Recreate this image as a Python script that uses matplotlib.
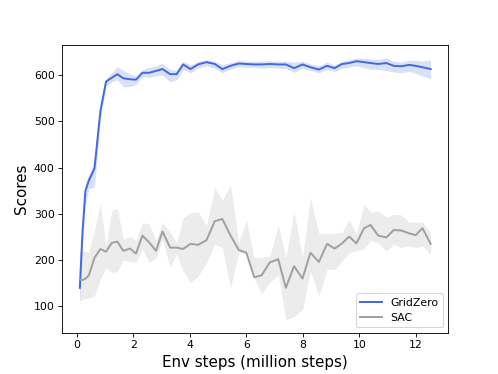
import matplotlib
matplotlib.use("Agg")
import matplotlib.pyplot as plt
import numpy as np

# env steps (million) shared by both runs
steps = [0.1, 0.2, 0.3, 0.42, 0.62, 0.83, 1.03, 1.23, 1.43, 1.64,
         1.88, 2.09, 2.32, 2.56, 2.80, 3.03, 3.30, 3.53, 3.76, 4.02,
         4.29, 4.59, 4.88, 5.15, 5.44, 5.73, 6.0, 6.28, 6.54, 6.83,
         7.13, 7.40, 7.69, 7.99, 8.27, 8.57, 8.86, 9.13, 9.39, 9.64,
         9.90, 10.17, 10.40, 10.67, 10.96, 11.22, 11.49, 11.76, 12.0, 12.24,
         12.53]

gridzero_mean = [140, 265, 350, 372, 398, 522, 586, 594, 602, 593,
                 591, 590, 605, 605, 609, 613, 602, 602, 623, 613,
                 623, 628, 624, 613, 620, 625, 624, 623, 623, 624,
                 623, 623, 615, 623, 617, 612, 620, 615, 624, 626,
                 630, 628, 626, 624, 626, 620, 619, 622, 620, 617,
                 613]
gridzero_low = [100, 235, 320, 355, 358, 505, 576, 585, 590, 575,
                575, 580, 597, 595, 598, 600, 585, 590, 612, 605,
                615, 620, 615, 605, 613, 618, 617, 616, 615, 616,
                615, 614, 606, 615, 610, 605, 612, 608, 615, 617,
                620, 616, 613, 612, 610, 607, 605, 608, 604, 598,
                592]
gridzero_high = [145, 290, 365, 385, 410, 535, 593, 605, 618, 610,
                 603, 598, 612, 617, 620, 625, 612, 610, 630, 622,
                 630, 633, 630, 622, 627, 632, 630, 630, 630, 631,
                 630, 630, 628, 630, 624, 620, 628, 622, 630, 633,
                 637, 636, 635, 634, 637, 630, 628, 632, 632, 630,
                 632]

sac_mean = [158, 157, 160, 167, 205, 224, 218, 237, 240, 220,
            225, 214, 253, 238, 220, 262, 227, 227, 224, 235,
            233, 243, 284, 289, 253, 222, 216, 163, 167, 195,
            202, 140, 187, 160, 216, 196, 235, 225, 236, 251,
            236, 269, 276, 253, 249, 265, 264, 258, 254, 269,
            235]
sac_low = [113, 115, 117, 118, 123, 160, 184, 173, 176, 200,
           197, 195, 224, 195, 204, 245, 185, 213, 176, 151,
           165, 195, 235, 227, 140, 216, 214, 160, 128, 151,
           169, 71, 78, 93, 176, 122, 180, 180, 198, 216,
           220, 225, 242, 238, 220, 235, 227, 231, 227, 231,
           213]
sac_high = [219, 219, 218, 218, 265, 322, 231, 307, 311, 245,
            251, 242, 281, 278, 242, 282, 260, 238, 291, 302,
            304, 275, 357, 329, 362, 238, 286, 205, 206, 209,
            275, 206, 304, 206, 335, 258, 258, 258, 260, 287,
            256, 320, 304, 306, 293, 299, 298, 282, 282, 282,
            260]

fig, ax = plt.subplots(figsize=(498 / 78, 374 / 78), dpi=78)

blue = "#4169e1"
grey = "#a0a0a0"

ax.plot(steps, gridzero_mean, color=blue, lw=1.8, label="GridZero")
ax.fill_between(steps, gridzero_low, gridzero_high, color=blue, alpha=0.2, lw=0)
ax.plot(steps, sac_mean, color=grey, lw=1.8, label="SAC")
ax.fill_between(steps, sac_low, sac_high, color=grey, alpha=0.2, lw=0)

ax.set_xlabel("Env steps (million steps)", fontsize=14)
ax.set_ylabel("Scores", fontsize=14)
ax.set_xticks(np.arange(0, 13, 2))
ax.set_yticks(np.arange(100, 700, 100))
ax.tick_params(labelsize=10)
ax.legend(loc="lower right", fontsize=10)

plt.savefig("out.png", dpi=78)
